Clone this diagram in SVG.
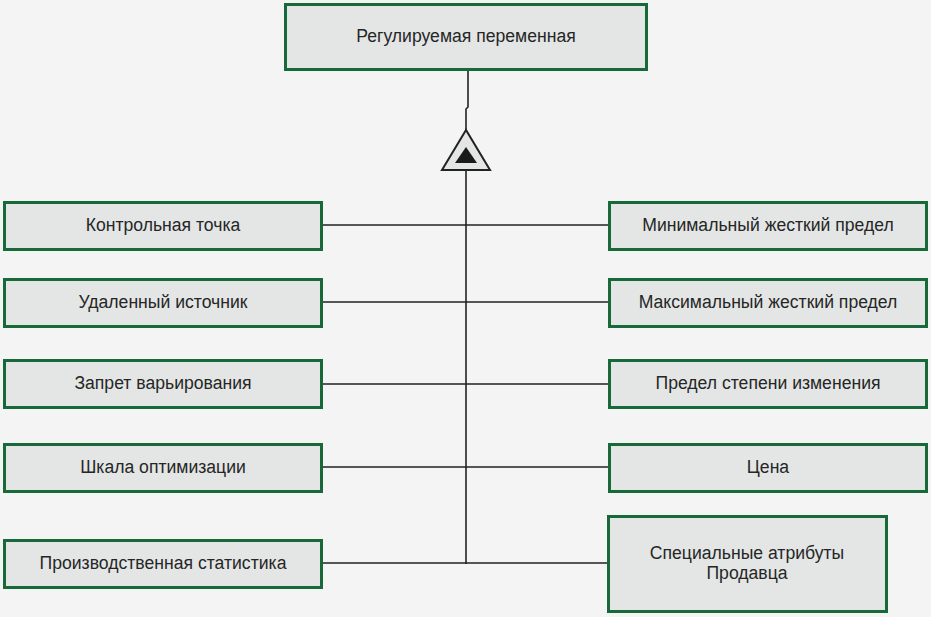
<svg xmlns="http://www.w3.org/2000/svg" width="931" height="617" viewBox="0 0 931 617">
<style>
.box{fill:#e3e6e5;stroke:#17693a;stroke-width:3}
.t{font-family:"Liberation Sans",Arial,sans-serif;font-size:17.6px;fill:#262626;text-anchor:middle}
.c{stroke:#222;stroke-width:1.6;fill:none}
</style>
<rect width="931" height="617" fill="#f4f4f4"/>
<g id="connectors">
<polyline class="c" points="468,71 468,107 466,109 466,131"/>
<line class="c" x1="466" y1="170" x2="466" y2="564"/>
<line class="c" x1="322" y1="225" x2="609" y2="225"/>
<line class="c" x1="322" y1="302" x2="609" y2="302"/>
<line class="c" x1="322" y1="384" x2="609" y2="384"/>
<line class="c" x1="322" y1="467" x2="609" y2="467"/>
<line class="c" x1="322" y1="563" x2="607" y2="563"/>
<polygon points="466,130 442,170 490,170" fill="#e3e6e5" stroke="#222" stroke-width="2"/>
<polygon points="466,147 455,163 477,163" fill="#1a1a1a"/>
</g>
<g id="n0"><rect class="box" x="285.5" y="4.5" width="361" height="65"/><text class="t" x="466" y="42">Регулируемая переменная</text></g>
<g id="l1"><rect class="box" x="4.5" y="202.5" width="317" height="47"/><text class="t" x="163" y="231">Контрольная точка</text></g>
<g id="l2"><rect class="box" x="4.5" y="279.5" width="317" height="47"/><text class="t" x="163" y="308">Удаленный источник</text></g>
<g id="l3"><rect class="box" x="4.5" y="360.5" width="317" height="47"/><text class="t" x="163" y="389">Запрет варьирования</text></g>
<g id="l4"><rect class="box" x="4.5" y="444.5" width="317" height="47"/><text class="t" x="163" y="473">Шкала оптимизации</text></g>
<g id="l5"><rect class="box" x="4.5" y="540.5" width="317" height="47"/><text class="t" x="163" y="569">Производственная статистика</text></g>
<g id="r1"><rect class="box" x="609.5" y="202.5" width="317" height="47"/><text class="t" x="768" y="231">Минимальный жесткий предел</text></g>
<g id="r2"><rect class="box" x="609.5" y="279.5" width="317" height="47"/><text class="t" x="768" y="308">Максимальный жесткий предел</text></g>
<g id="r3"><rect class="box" x="609.5" y="360.5" width="317" height="47"/><text class="t" x="768" y="389">Предел степени изменения</text></g>
<g id="r4"><rect class="box" x="609.5" y="444.5" width="317" height="47"/><text class="t" x="768" y="473">Цена</text></g>
<g id="r5"><rect class="box" x="608.5" y="516.5" width="278" height="95"/><text class="t" x="747" y="559">Специальные атрибуты</text><text class="t" x="747" y="579">Продавца</text></g>
</svg>
